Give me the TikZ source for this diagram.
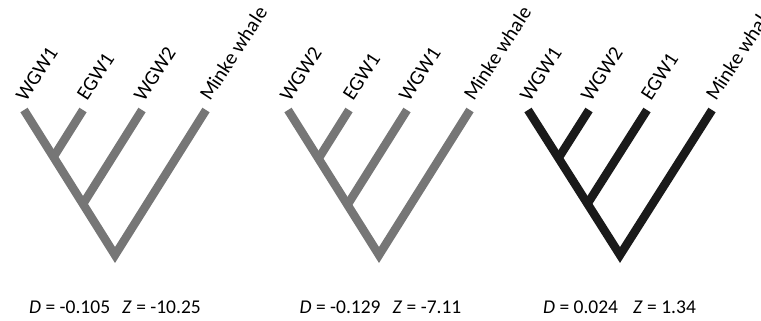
\documentclass[tikz,border=0pt]{standalone}
\usepackage{fontspec}
\setmainfont{Carlito}
\usetikzlibrary{calc}
\definecolor{treegray}{RGB}{118,118,118}
\definecolor{treeblack}{RGB}{26,26,26}
\begin{document}
\begin{tikzpicture}[x=1pt,y=-1pt,
  branch/.style={line width=8.5pt, line join=miter, line cap=butt},
  leaf/.style={anchor=base west, rotate=57, inner sep=0pt, font=\fontsize{20.5}{22}\selectfont},
  stat/.style={anchor=base, inner sep=0pt, font=\fontsize{19.5}{22}\selectfont}]
\useasboundingbox (0,0) rectangle (761,321);
% ---------- Tree 1 ----------
\coordinate (r1) at (115,255);
\coordinate (a1) at (24,110);
\coordinate (b1) at (83,110);
\coordinate (c1) at (142,110);
\coordinate (d1) at (206,110);
\coordinate (bb1) at ($(b1)+(r1)-(d1)$);
\coordinate (cc1) at ($(c1)+(r1)-(d1)$);
\coordinate (p1) at (intersection of a1--r1 and b1--bb1);
\coordinate (q1) at (intersection of a1--r1 and c1--cc1);
\draw[branch,treegray] (a1) -- (r1) -- (d1);
\draw[branch,treegray] (b1) -- (p1);
\draw[branch,treegray] (c1) -- (q1);
\node[leaf] (la1) at ($(a1)+(2,-7)$) {WGW1};
\node[leaf] (lb1) at ($(b1)+(4,-8)$) {EGW1};
\node[leaf] (lc1) at ($(c1)+(2,-7)$) {WGW2};
\node[leaf] (ld1) at ($(d1)+(4,-8)$) {Minke whale};
\node[stat] (s1) at (115,313) {\textit{D} = -0.105\hspace{12pt}\textit{Z} = -10.25};
% ---------- Tree 2 ----------
\coordinate (r2) at (379,255);
\coordinate (a2) at (288,110);
\coordinate (b2) at (349,110);
\coordinate (c2) at (407,110);
\coordinate (d2) at (470,110);
\coordinate (bb2) at ($(b2)+(r2)-(d2)$);
\coordinate (cc2) at ($(c2)+(r2)-(d2)$);
\coordinate (p2) at (intersection of a2--r2 and b2--bb2);
\coordinate (q2) at (intersection of a2--r2 and c2--cc2);
\draw[branch,treegray] (a2) -- (r2) -- (d2);
\draw[branch,treegray] (b2) -- (p2);
\draw[branch,treegray] (c2) -- (q2);
\node[leaf] (la2) at ($(a2)+(2,-7)$) {WGW2};
\node[leaf] (lb2) at ($(b2)+(4,-8)$) {EGW1};
\node[leaf] (lc2) at ($(c2)+(2,-7)$) {WGW1};
\node[leaf] (ld2) at ($(d2)+(4,-8)$) {Minke whale};
\node[stat] (s2) at (380.5,313) {\textit{D} = -0.129\hspace{12pt}\textit{Z} = -7.11};
% ---------- Tree 3 ----------
\coordinate (r3) at (620,255);
\coordinate (a3) at (528,110);
\coordinate (b3) at (589,110);
\coordinate (c3) at (647,110);
\coordinate (d3) at (712,110);
\coordinate (bb3) at ($(b3)+(r3)-(d3)$);
\coordinate (cc3) at ($(c3)+(r3)-(d3)$);
\coordinate (p3) at (intersection of a3--r3 and b3--bb3);
\coordinate (q3) at (intersection of a3--r3 and c3--cc3);
\draw[branch,treeblack] (a3) -- (r3) -- (d3);
\draw[branch,treeblack] (b3) -- (p3);
\draw[branch,treeblack] (c3) -- (q3);
\node[leaf] (la3) at ($(a3)+(2,-7)$) {WGW1};
\node[leaf] (lb3) at ($(b3)+(2,-7)$) {WGW2};
\node[leaf] (lc3) at ($(c3)+(4,-8)$) {EGW1};
\node[leaf] (ld3) at ($(d3)+(4,-8)$) {Minke whale};
\node[stat] (s3) at (619.5,313) {\textit{D} = 0.024\hspace{15pt}\textit{Z} = 1.34};
\end{tikzpicture}
\end{document}
